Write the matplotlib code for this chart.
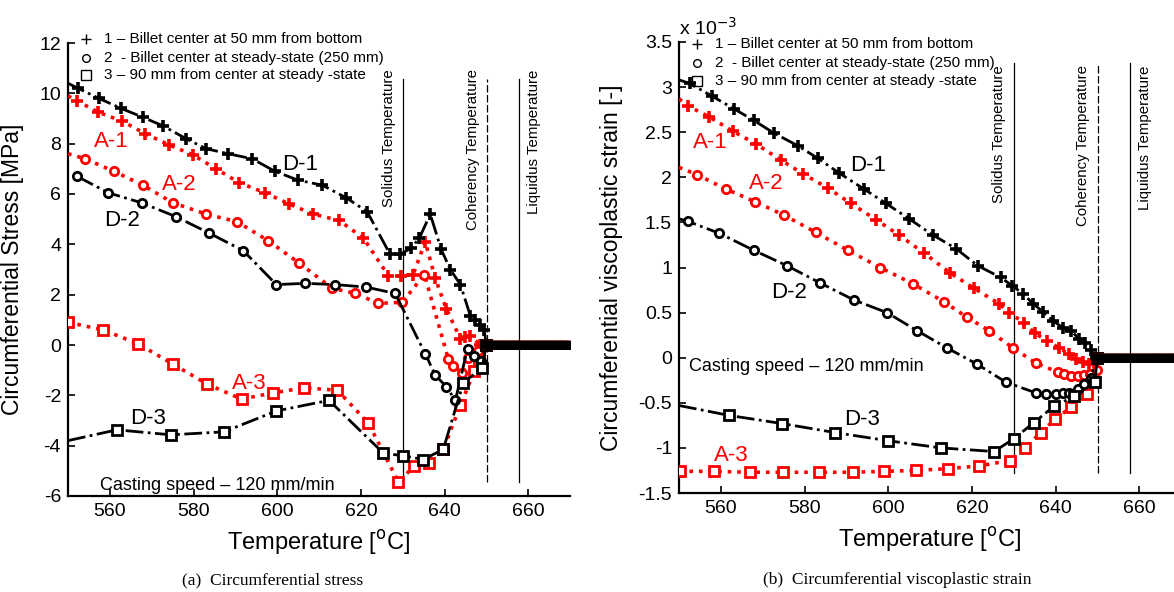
import numpy as np
import matplotlib
matplotlib.use("Agg")
import matplotlib.pyplot as plt
from matplotlib.ticker import FuncFormatter

plt.rcParams['font.family'] = ['Liberation Sans', 'DejaVu Sans']

# ---- (a) circumferential stress [MPa] vs temperature [C] ----
stress_d1_T = [550, 552.4, 557.4, 562.7, 567.9, 572.8, 578.2, 583.0, 588.3, 594.0, 599.5, 605.0, 610.8,
               616.5, 621.5, 627.0, 629.4, 632.0, 634.0, 636.6, 639.2, 641.4, 643.8, 646.2, 647.4, 648.6,
               649.5, 650.0]
stress_d1 = [10.4, 10.2, 9.8, 9.4, 9.05, 8.7, 8.2, 7.8, 7.6, 7.4, 6.9, 6.55, 6.35,
             5.85, 5.3, 3.6, 3.6, 3.85, 4.25, 5.2, 3.8, 3.0, 2.4, 1.15, 1.0, 0.8,
             0.6, 0.0]
stress_a1_T = [550, 552.2, 557.2, 562.9, 568.4, 574.2, 579.9, 585.4, 590.9, 597.1, 602.9, 608.6, 614.8,
               620.6, 626.6, 629.7, 632.5, 635.4, 637.8, 640.4, 643.8, 645.0, 646.2, 648.6, 650.0]
stress_a1 = [9.9, 9.7, 9.25, 8.9, 8.4, 7.95, 7.55, 7.0, 6.45, 6.05, 5.6, 5.2, 4.95,
             4.25, 2.75, 2.75, 2.8, 4.1, 2.65, 1.45, 0.25, 0.3, 0.35, 0.0, 0.0]
stress_d2_T = [552.2, 559.6, 567.6, 575.8, 583.7, 591.9, 599.8, 606.7, 613.9, 621.3, 628.2, 635.4, 637.8,
               640.4, 642.6, 645.5, 647.1, 648.8, 650.0]
stress_d2 = [6.7, 6.05, 5.65, 5.1, 4.45, 3.75, 2.4, 2.45, 2.4, 2.3, 2.05, -0.35, -1.2,
             -1.65, -2.2, -0.15, -0.45, -0.65, 0.0]
stress_a2_T = [550, 554.1, 561.0, 567.9, 575.1, 583.0, 590.4, 597.8, 605.3, 613.2, 618.7, 624.2, 629.9,
               635.2, 640.9, 642.1, 644.3, 645.7, 648.1, 650.0]
stress_a2 = [7.6, 7.4, 6.9, 6.35, 5.65, 5.2, 4.9, 4.15, 3.25, 2.25, 2.05, 1.65, 1.7,
             2.8, -0.55, -0.85, -1.1, -0.5, -0.25, 0.0]
stress_d3_T = [550, 561.7, 574.6, 587.3, 599.8, 612.4, 625.4, 630.1, 634.9, 639.7, 644.5, 649.0, 650.0]
stress_d3 = [-3.8, -3.37, -3.57, -3.45, -2.62, -2.2, -4.3, -4.4, -4.55, -4.15, -1.5, -0.9, 0.0]
stress_a3_T = [550, 558.4, 566.7, 575.0, 583.2, 591.5, 599.1, 606.5, 614.4, 621.8, 629.0, 632.8, 636.4,
               639.7, 643.8, 647.1, 648.3, 650.0]
stress_a3 = [0.9, 0.6, 0.05, -0.75, -1.55, -2.15, -1.9, -1.7, -1.8, -3.1, -5.45, -4.8, -4.7,
             -4.15, -2.4, -1.05, -0.65, 0.0]

# ---- (b) circumferential viscoplastic strain [x 1e-3] ----
strain_d1_T = [550, 552.6, 557.9, 563.1, 567.9, 572.7, 578.4, 583.2, 588.2, 594.2, 599.5, 605.0, 610.7,
               616.2, 621.4, 626.9, 629.6, 632.2, 634.6, 637.0, 639.4, 641.8, 643.7, 645.6, 647.0, 648.4,
               649.6]
strain_d1 = [3.08, 3.04, 2.9, 2.76, 2.63, 2.49, 2.35, 2.21, 2.05, 1.87, 1.71, 1.54, 1.36,
             1.21, 1.02, 0.89, 0.8, 0.71, 0.6, 0.51, 0.41, 0.33, 0.3, 0.21, 0.16, 0.08,
             0.0]
strain_a1_T = [550, 552.2, 557.2, 562.9, 568.4, 574.4, 579.6, 585.6, 591.1, 597.1, 602.6, 608.6, 614.8,
               620.5, 626.5, 628.9, 632.4, 635.1, 637.9, 640.8, 643.2, 644.9, 646.5, 648.0, 649.2, 650.0]
strain_a1 = [2.87, 2.79, 2.67, 2.51, 2.37, 2.19, 2.04, 1.88, 1.71, 1.53, 1.36, 1.16, 0.94,
             0.77, 0.6, 0.5, 0.39, 0.27, 0.19, 0.11, 0.04, -0.01, -0.05, -0.07, -0.05, 0.0]
strain_d2_T = [550, 552.2, 559.6, 567.9, 575.8, 583.7, 591.8, 599.7, 606.9, 614.0, 621.2, 628.1, 635.3,
               637.7, 640.1, 641.7, 643.2, 645.3, 646.8, 648.4, 650.0]
strain_d2 = [1.54, 1.51, 1.38, 1.19, 1.02, 0.83, 0.64, 0.5, 0.3, 0.11, -0.07, -0.27, -0.39,
             -0.4, -0.4, -0.39, -0.39, -0.35, -0.29, -0.22, 0.0]
strain_a2_T = [550, 554.3, 561.2, 568.2, 575.1, 582.7, 590.4, 598.1, 605.9, 613.3, 618.8, 624.1, 629.8,
               635.3, 640.6, 642.0, 643.7, 645.3, 646.8, 648.2, 649.9, 650.2]
strain_a2 = [2.11, 2.03, 1.87, 1.73, 1.58, 1.39, 1.19, 1.0, 0.82, 0.62, 0.45, 0.3, 0.11,
             -0.06, -0.16, -0.18, -0.2, -0.2, -0.19, -0.18, -0.14, 0.0]
strain_d3_T = [550, 562.0, 574.6, 587.3, 599.9, 612.6, 625.3, 630.0, 634.8, 639.6, 644.4, 649.4, 650.0]
strain_d3 = [-0.53, -0.64, -0.73, -0.83, -0.92, -1.0, -1.04, -0.9, -0.72, -0.54, -0.43, -0.27, 0.0]
strain_a3_T = [550.2, 558.4, 567.0, 574.8, 583.4, 591.6, 599.0, 606.6, 614.3, 621.7, 629.1, 632.7, 636.5,
               639.9, 643.7, 647.5, 649.0, 650.0]
strain_a3 = [-1.26, -1.26, -1.27, -1.27, -1.27, -1.27, -1.26, -1.25, -1.23, -1.2, -1.14, -1.0, -0.83,
             -0.68, -0.55, -0.4, -0.25, 0.0]

# above the coherency temperature everything sits at zero (dense markers)
tail_T = np.arange(650, 670.01, 0.35)
tail_val = np.zeros_like(tail_T)

solidus_T, coherency_T, liquidus_T = 630.0, 650.2, 657.9
legend_labels = ["1 \u2013 Billet center at 50 mm from bottom",
                 "2  - Billet center at steady-state (250 mm)",
                 "3 \u2013 90 mm from center at steady -state"]
casting_text = "Casting speed \u2013 120 mm/min"

RED = (1, 0, 0)
mk = {'+': dict(marker='+', ms=8, mew=2.6),
      'o': dict(marker='o', ms=6, mew=2, mfc='white'),
      's': dict(marker='s', ms=6.5, mew=2, mfc='white')}
tail_mk = {'+': dict(marker='+', ms=6, mew=2),
           'o': dict(marker='o', ms=4.5, mew=1.6, mfc='white'),
           's': dict(marker='s', ms=5, mew=1.6, mfc='white')}


def series(ax, T, v, color, ls, m, skip_first):
    lw = 2.0 if ls == '-.' else 2.6
    ax.plot(T, v, color=color, ls=ls, lw=lw, mec=color,
            markevery=slice(1 if skip_first else 0, None), zorder=3, **mk[m])


def panel(ax, data, ylim, yticks, vline_top, vline_bot, leg_y, labels, cast_xy, txt_top):
    (d1T, d1), (a1T, a1), (d2T, d2), (a2T, a2), (d3T, d3), (a3T, a3) = data
    series(ax, a1T, a1, RED, ':', '+', True)
    series(ax, a2T, a2, RED, ':', 'o', a2T[0] == 550)
    series(ax, a3T, a3, RED, ':', 's', False)
    series(ax, d1T, d1, 'k', '-.', '+', True)
    series(ax, d2T, d2, 'k', '-.', 'o', d2T[0] == 550)
    series(ax, d3T, d3, 'k', '-.', 's', True)
    # flat tail above coherency
    for c in (RED, 'k'):
        for m in ('o', 's', '+'):
            ax.plot(tail_T, tail_val, color=c, ls='none', mec=c, zorder=4, **tail_mk[m])

    ax.plot([solidus_T, solidus_T], [vline_bot, vline_top], color='k', lw=0.9, zorder=2)
    ax.plot([liquidus_T, liquidus_T], [vline_bot, vline_top], color='k', lw=0.9, zorder=2)
    ax.plot([coherency_T, coherency_T], [vline_bot, vline_top], color='k', lw=0.9,
            ls=(0, (6, 2)), zorder=2)
    for x, s in zip(txt_top[0], ["Solidus Temperature", "Coherency Temperature", "Liquidus Temperature"]):
        ax.text(x, txt_top[1], s, rotation=90, ha='center', va='top', fontsize=10.8)

    for y, m, s in zip(leg_y, ['+', 'o', 's'], legend_labels):
        ax.plot([554.4], [y], color='k', ls='none', clip_on=False, marker=m,
                ms={'+': 7, 'o': 5.5, 's': 7}[m], mew=1, mfc='none', mec='k')
        ax.text(558.6, y, s, fontsize=11, va='center', ha='left')

    for (x, y, s) in labels:
        ax.text(x, y, s, fontsize=16, ha='center', va='center',
                color=RED if s.startswith('A') else 'k', zorder=6)
    ax.text(cast_xy[0], cast_xy[1], casting_text, fontsize=13, ha='left', va='center')

    ax.set_xlim(550, 670)
    ax.set_ylim(*ylim)
    ax.set_xticks([560, 580, 600, 620, 640, 660])
    ax.set_yticks(yticks)
    ax.yaxis.set_major_formatter(FuncFormatter(lambda v, p: "%g" % v))
    ax.spines['top'].set_visible(False)
    ax.spines['right'].set_visible(False)
    for s in ('left', 'bottom'):
        ax.spines[s].set_linewidth(1.6)
    ax.tick_params(direction='in', length=5, width=1.2, labelsize=14, pad=5)
    ax.set_xlabel("Temperature [$^{\\mathrm{o}}$C]", fontsize=17)
    ax.xaxis.set_label_coords(0.5, -0.07)
    ax.xaxis.label.set_va('top')


fig = plt.figure(figsize=(11.74, 5.92), dpi=100)
ax1 = fig.add_axes([68 / 1174, 1 - 496 / 592, 502 / 1174, 453 / 592])
ax2 = fig.add_axes([679 / 1174, 1 - 493 / 592, 502 / 1174, 451 / 592])

panel(ax1,
      [(stress_d1_T, stress_d1), (stress_a1_T, stress_a1), (stress_d2_T, stress_d2),
       (stress_a2_T, stress_a2), (stress_d3_T, stress_d3), (stress_a3_T, stress_a3)],
      (-6, 12), np.arange(-6, 13, 2), 10.55, -5.45, [12.14, 11.39, 10.71],
      [(605.5, 7.18, "D-1"), (560.3, 8.1, "A-1"), (576.6, 6.39, "A-2"), (562.9, 4.96, "D-2"),
       (593.3, -1.51, "A-3"), (569.1, -2.94, "D-3")],
      (557.7, -5.6), ([626.8, 646.9, 661.5], 10.95))
ax1.set_ylabel("Circumferential Stress [MPa]", fontsize=16.5)
ax1.yaxis.set_label_coords(-0.088, 0.5)

panel(ax2,
      [(strain_d1_T, strain_d1), (strain_a1_T, strain_a1), (strain_d2_T, strain_d2),
       (strain_a2_T, strain_a2), (strain_d3_T, strain_d3), (strain_a3_T, strain_a3)],
      (-1.5, 3.5), np.arange(-1.5, 3.6, 0.5), 3.27, -1.28, [3.48, 3.27, 3.07],
      [(595.2, 2.13, "D-1"), (557.4, 2.39, "A-1"), (570.8, 1.93, "A-2"), (576.3, 0.72, "D-2"),
       (593.7, -0.68, "D-3"), (562.4, -1.08, "A-3")],
      (552.4, -0.1), ([626.5, 646.5, 661.3], 3.24))
ax2.set_ylabel("Circumferential viscoplastic strain [-]", fontsize=16.5)
ax2.yaxis.set_label_coords(-0.112, 0.5)
ax2.text(550, 3.66, "x 10$^{-3}$", fontsize=14, ha='left', va='center', clip_on=False)

fig.text(273 / 1174, 1 - 580 / 592, "(a)  Circumferential stress", family='Liberation Serif',
         fontsize=12.5, ha='center', va='center')
fig.text(897 / 1174, 1 - 580 / 592, "(b)  Circumferential viscoplastic strain", family='Liberation Serif',
         fontsize=12.5, ha='center', va='center')

fig.savefig("out.png", dpi=100)
